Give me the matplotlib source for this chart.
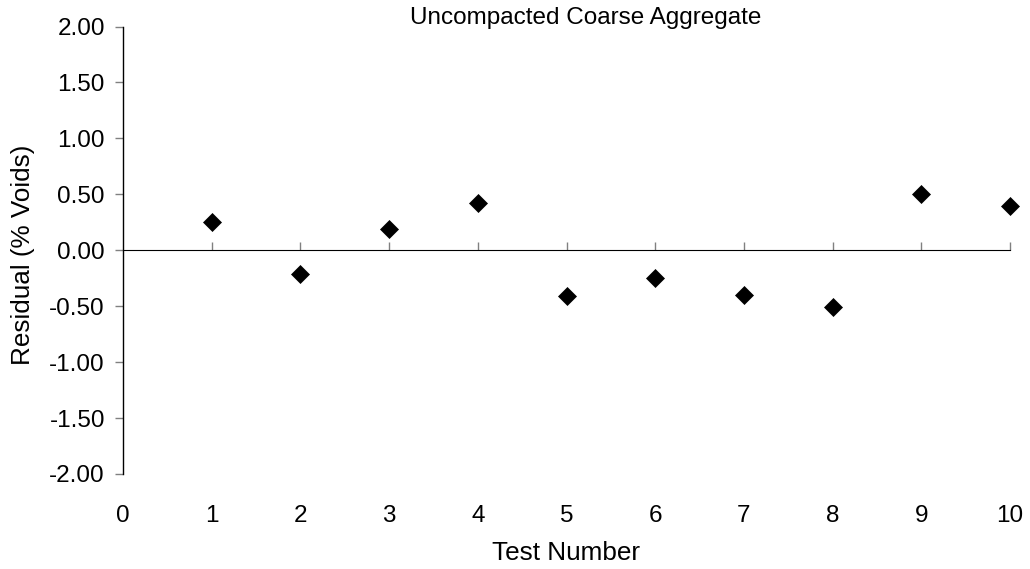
import matplotlib.pyplot as plt

# residuals
test_no = [1, 2, 3, 4, 5, 6, 7, 8, 9, 10]
residual = [0.25, -0.21, 0.19, 0.42, -0.41, -0.25, -0.40, -0.51, 0.50, 0.40]
y_ticks = [-2.0, -1.5, -1.0, -0.5, 0.0, 0.5, 1.0, 1.5, 2.0]
x_ticks = list(range(0, 11))

plt.rcParams['font.family'] = ['Liberation Sans', 'DejaVu Sans']
fs = 17.5
fs_lab = 18.8

fig = plt.figure(figsize=(10.3, 5.69), dpi=100)
ax = fig.add_axes([0.1194, 0.167, 0.8612, 0.7864])

ax.plot(test_no, residual, linestyle='none', marker='D', markersize=9,
        color='black', markeredgewidth=0.5, clip_on=False, zorder=5)

ax.set_xlim(0, 10)
ax.set_ylim(-2, 2)
ax.set_yticks(y_ticks)
ax.set_yticklabels(['%.2f' % v for v in y_ticks], fontsize=fs)
ax.set_xticks(x_ticks)
ax.set_xticklabels([str(v) for v in x_ticks], fontsize=fs)

for s in ['top', 'right', 'bottom']:
    ax.spines[s].set_visible(False)
ax.spines['left'].set_color('black')
ax.spines['left'].set_linewidth(1)
ax.tick_params(axis='y', direction='out', length=6, width=1, color='gray', pad=7)
ax.tick_params(axis='x', length=0, pad=22)

# horizontal axis line at zero, ticks pointing down
sec = ax.secondary_xaxis(0.5)
sec.set_xticks(test_no)
sec.set_xticklabels([])
sec.tick_params(direction='out', length=5.5, width=1, color='gray')
sec.spines['bottom'].set_color('black')
sec.spines['bottom'].set_linewidth(1)

fig.text(0.5684, 0.968, 'Uncompacted Coarse Aggregate', fontsize=fs,
         ha='center', va='center')
fig.text(0.022, 0.553, 'Residual (% Voids)', fontsize=fs_lab, rotation=90,
         ha='center', va='center')
fig.text(0.5500, 0.028, 'Test Number', fontsize=fs_lab, ha='center', va='center')

fig.savefig('out.png', dpi=100, facecolor='white')
